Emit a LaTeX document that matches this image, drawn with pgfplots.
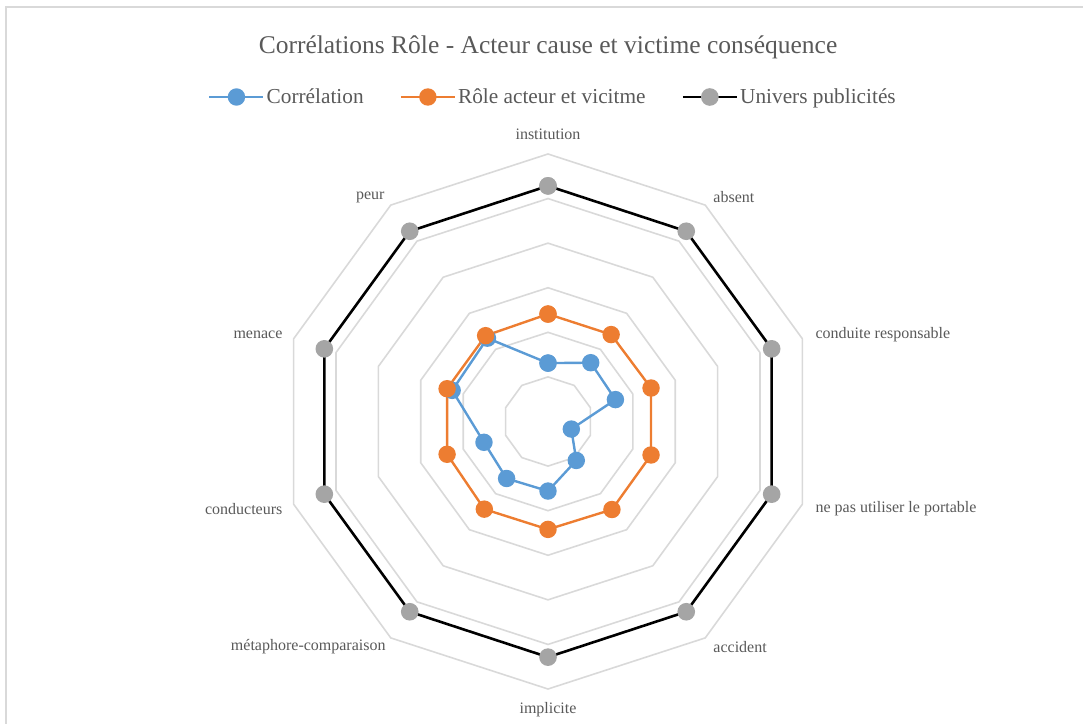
\documentclass[border=0pt]{standalone}
\usepackage{fontspec}
\setmainfont{Liberation Serif}
\usepackage{pgfplots}
\pgfplotsset{compat=1.18}
\usepgfplotslibrary{polar}
\definecolor{cblue}{HTML}{5B9BD5}
\definecolor{corange}{HTML}{ED7D31}
\definecolor{cgray}{HTML}{A5A5A5}
\definecolor{ctext}{HTML}{595959}
\definecolor{cgrid}{HTML}{D9D9D9}
\tikzset{catlab/.style={font=\fontsize{16}{18}\selectfont, text=ctext}}
\begin{document}
\begin{tikzpicture}
\draw[cgrid, line width=1.5pt] (6pt,-20pt) rectangle (1110pt,716pt);
\begin{polaraxis}[
  at={(548pt,301.5pt)}, anchor=center,
  scale only axis, width=535pt, height=535pt,
  ymin=0, ymax=1.2, ytick=\empty,
  xtick={18,54,90,126,162,198,234,270,306,342},
  xticklabels={},
  grid=none, xmajorgrids=false, ymajorgrids=false,
  major tick length=0pt,
  axis line style={draw=none},
  clip=false,
  title={Corrélations Rôle - Acteur cause et victime conséquence},
  title style={font=\fontsize{25.5}{28}\selectfont, text=ctext, at={(0.5,1)}, anchor=center, yshift=92pt},
  legend columns=3,
  legend style={draw=none, fill=none, at={(0.5,1)}, anchor=center, yshift=57pt, xshift=5pt,
    font=\fontsize{21.3}{24}\selectfont, text=ctext,
    /tikz/every even column/.append style={column sep=34pt}},
  legend image code/.code={\draw[mark repeat=2,mark phase=2] plot coordinates {(0pt,0pt)(27pt,0pt)(54pt,0pt)};},
]
% grid rings
\foreach \r in {0.2,0.4,0.6,0.8,1.0,1.2} {
  \addplot[cgrid, line width=1.6pt, forget plot, no marks] coordinates {(18,\r)(54,\r)(90,\r)(126,\r)(162,\r)(198,\r)(234,\r)(270,\r)(306,\r)(342,\r)(18,\r)};
}
\addplot[cblue, line width=2.4pt, mark=*, mark size=7.5pt, mark options={fill=cblue, draw=cblue}] coordinates {
(90,0.262)(54,0.326)(18,0.318)(342,0.110)(306,0.216)(270,0.312)(234,0.316)(198,0.302)(162,0.452)(126,0.462)(90,0.262)};
\addlegendentry{Corrélation}
\addplot[corange, line width=2.4pt, mark=*, mark size=7.5pt, mark options={fill=corange, draw=corange}] coordinates {
(90,0.482)(54,0.482)(18,0.486)(342,0.486)(306,0.488)(270,0.484)(234,0.486)(198,0.476)(162,0.476)(126,0.476)(90,0.482)};
\addlegendentry{Rôle acteur et vicitme}
\addplot[black, line width=2.6pt, mark=*, mark size=7.5pt, mark options={fill=cgray, draw=cgray}] coordinates {
(90,1.057)(54,1.055)(18,1.055)(342,1.055)(306,1.055)(270,1.057)(234,1.055)(198,1.055)(162,1.055)(126,1.055)(90,1.057)};
\addlegendentry{Univers publicités}
% category labels
\node[catlab, anchor=center, yshift=20pt] at (axis cs:90,1.2) {institution};
\node[catlab, anchor=west, inner sep=0pt, xshift=8pt, yshift=8pt] at (axis cs:54,1.2) {absent};
\node[catlab, anchor=west, inner sep=0pt, xshift=13pt, yshift=4pt] at (axis cs:18,1.2) {conduite responsable};
\node[catlab, anchor=west, inner sep=0pt, xshift=13pt, yshift=-4pt] at (axis cs:342,1.2) {ne pas utiliser le portable};
\node[catlab, anchor=west, inner sep=0pt, xshift=8pt, yshift=-9pt] at (axis cs:306,1.2) {accident};
\node[catlab, anchor=center, yshift=-21pt] at (axis cs:270,1.2) {implicite};
\node[catlab, anchor=east, inner sep=0pt, xshift=-5pt, yshift=-9pt] at (axis cs:234,1.2) {métaphore-comparaison};
\node[catlab, anchor=east, inner sep=0pt, xshift=-11pt, yshift=-5pt] at (axis cs:198,1.2) {conducteurs};
\node[catlab, anchor=east, inner sep=0pt, xshift=-11pt, yshift=4pt] at (axis cs:162,1.2) {menace};
\node[catlab, anchor=east, inner sep=0pt, xshift=-6pt, yshift=8pt] at (axis cs:126,1.2) {peur};
\end{polaraxis}
\pgfresetboundingbox
\useasboundingbox (0,0) rectangle (1083pt,723pt);
\end{tikzpicture}
\end{document}
